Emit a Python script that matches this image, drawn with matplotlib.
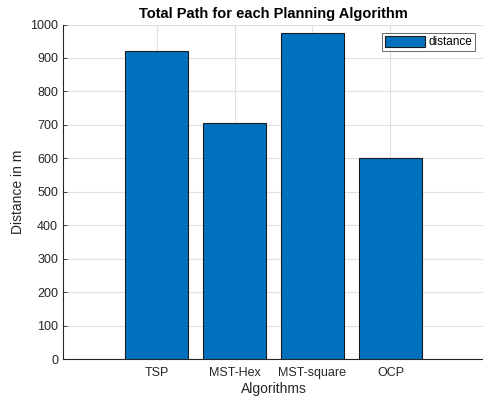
import matplotlib
matplotlib.use("Agg")
import matplotlib.pyplot as plt

algorithms = ["TSP", "MST-Hex", "MST-square", "OCP"]
distance = [921, 707, 975, 600]
yticks = [0, 100, 200, 300, 400, 500, 600, 700, 800, 900, 1000]

plt.rcParams['font.family'] = ['Liberation Sans', 'DejaVu Sans']

fig = plt.figure(figsize=(4.83, 4.01), dpi=100)
ax = fig.add_axes([63/483, 1-359/401, 421/483, (359-24.5)/401])

x = list(range(len(algorithms)))
ax.bar(x, distance, width=0.8, color="#0072BD", edgecolor="#1a1a1a", linewidth=0.8,
       label="distance", zorder=3)

ax.set_xlim(-1.2, 4.2)
ax.set_ylim(0, 1000)
ax.set_xticks(x)
ax.set_xticklabels(algorithms)
ax.set_yticks(yticks)

ax.grid(True, color="#e0e0e0", linewidth=0.8, zorder=0)
ax.set_axisbelow(True)

for s in ["top", "right"]:
    ax.spines[s].set_visible(False)
for s in ["left", "bottom"]:
    ax.spines[s].set_color("#262626")
    ax.spines[s].set_linewidth(0.8)

ax.tick_params(direction="in", length=3, colors="#262626", labelsize=9, width=0.6)
ax.tick_params(axis="x", pad=6)

ax.set_xlabel("Algorithms", fontsize=10, color="#262626", labelpad=2)
ax.set_ylabel("Distance in m", fontsize=10, color="#262626", labelpad=4)
ax.set_title("Total Path for each Planning Algorithm", fontsize=10.5, fontweight="bold",
             color="black", pad=5)

leg = ax.legend(loc="upper right", bbox_to_anchor=(475/483, 1-33/401),
                bbox_transform=fig.transFigure, fontsize=8.5, frameon=True,
                fancybox=False, handlelength=3.4, handleheight=1.0, handletextpad=0.3,
                borderpad=0.25, borderaxespad=0)
leg.get_frame().set_edgecolor("#262626")
leg.get_frame().set_linewidth(0.6)

fig.savefig("out.png", dpi=100)
